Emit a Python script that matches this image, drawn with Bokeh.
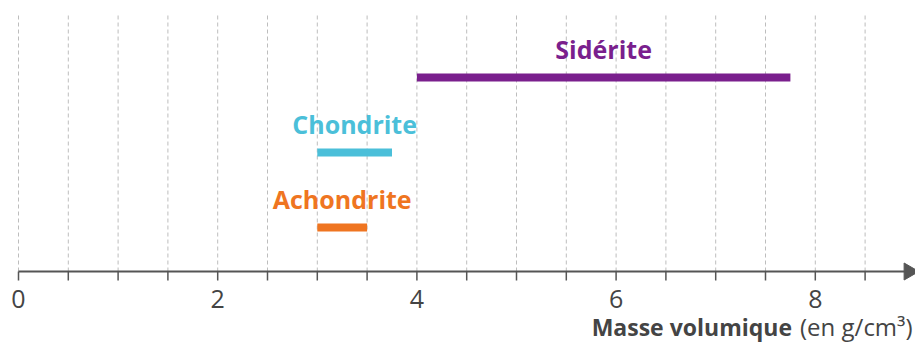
import math
from bokeh.plotting import figure
from bokeh.models import ColumnDataSource, Range1d
from bokeh.core.properties import value
from bokeh.embed import file_html
from bokeh.resources import INLINE

# ---- data ----
mineraux = ["Sidérite", "Chondrite", "Achondrite"]
densite_min = [4.0, 3.0, 3.0]
densite_max = [7.75, 3.75, 3.5]
niveau = [3, 2, 1]
couleurs = ["#7A1F8D", "#4BBFD9", "#EF7521"]

major_ticks = [0, 2, 4, 6, 8]
tick_labels = ["0", "2", "4", "6", "8"]
grid_ticks = [0, 0.5, 1, 1.5, 2, 2.5, 3, 3.5, 4, 4.5, 5, 5.5, 6, 6.5, 7, 7.5,
              8, 8.5]
titre_gras = "Masse volumique"
titre_unite = "(en g/cm³)"

# ---- layout constants (screen mapping) ----
PX_X = 99.6            # pixels per g/cm3
PX_Y = 75.0            # pixels per level
X0 = -18 / PX_X
X_END = (915 - 18) / PX_X
Y_AXIS = 1 - 44 / PX_Y
Y_TOP = 1 + (227 - 0) / PX_Y
Y_BOT = 1 - (342 - 227) / PX_Y
Y_GRID_TOP = 1 + (227 - 15) / PX_Y
TICK_LEN = 9 / PX_Y
AXIS_COLOR = "#555555"

src = ColumnDataSource(dict(
    nom=mineraux, x0=densite_min, x1=densite_max, y=niveau, c=couleurs,
    xm=[(a + b) / 2 for a, b in zip(densite_min, densite_max)],
))

p = figure(width=915, height=342, output_backend="svg", toolbar_location=None,
           x_range=Range1d(X0, X_END), y_range=Range1d(Y_BOT, Y_TOP),
           min_border=0, x_axis_type=None, y_axis_type=None)
p.outline_line_color = None
p.grid.visible = False
p.background_fill_color = "white"
p.border_fill_color = "white"

# dashed vertical grid
p.segment(x0=grid_ticks, y0=[Y_AXIS] * len(grid_ticks),
          x1=grid_ticks, y1=[Y_GRID_TOP] * len(grid_ticks),
          line_color="#bdbdbd", line_width=1, line_dash="4 3")

# axis line, ticks, arrow head
p.segment(x0=[0], y0=[Y_AXIS], x1=[X_END - 0.08], y1=[Y_AXIS],
          line_color=AXIS_COLOR, line_width=2)
p.segment(x0=grid_ticks, y0=[Y_AXIS] * len(grid_ticks),
          x1=grid_ticks, y1=[Y_AXIS - TICK_LEN] * len(grid_ticks),
          line_color=AXIS_COLOR, line_width=1.5)
p.scatter(x=[X_END - 0.065], y=[Y_AXIS], marker="triangle", size=17,
          angle=-math.pi / 2, fill_color=AXIS_COLOR, line_color=AXIS_COLOR)

# tick labels
p.text(x=major_ticks, y=[Y_AXIS] * len(major_ticks), text=tick_labels,
       text_font=value("Open Sans"), text_font_size="25px",
       text_color="#444444", text_align="center", text_baseline="middle",
       y_offset=27)

# axis title
p.text(x=[X_END - 0.03], y=[Y_AXIS], text=[titre_unite],
       text_font=value("Open Sans"), text_font_size="24px",
       text_color="#444444", text_align="right", text_baseline="middle",
       y_offset=55)
p.text(x=[X_END - 1.24], y=[Y_AXIS], text=[titre_gras],
       text_font=value("Open Sans"), text_font_style="bold",
       text_font_size="23px", text_color="#444444", text_align="right",
       text_baseline="middle", y_offset=55)

# bars and their labels
p.segment(x0="x0", y0="y", x1="x1", y1="y", source=src, color="c",
          line_width=8, line_cap="butt")
p.text(x="xm", y="y", text="nom", source=src, text_color="c",
       text_font=value("Open Sans"), text_font_style="bold",
       text_font_size="25px", text_align="center",
       text_baseline="alphabetic", y_offset=-29)

open("out.html", "w").write(file_html(p, INLINE))
